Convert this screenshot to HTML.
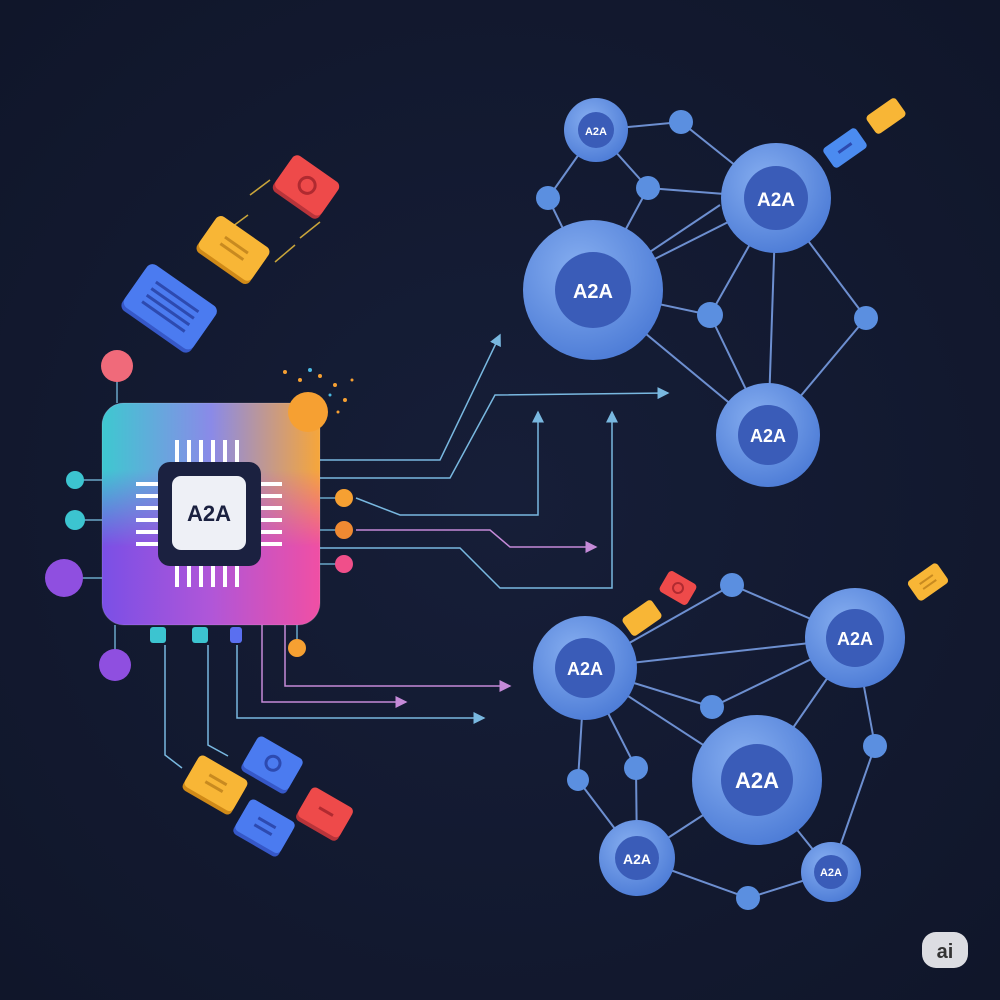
<!DOCTYPE html>
<html><head><meta charset="utf-8">
<style>
html,body{margin:0;padding:0;background:#121930;}
svg{display:block}
text{font-family:"Liberation Sans",sans-serif;font-weight:bold;}
</style></head>
<body>
<svg width="1000" height="1000" viewBox="0 0 1000 1000" xmlns="http://www.w3.org/2000/svg">
<defs>
<radialGradient id="bg" cx="50%" cy="50%" r="70%">
<stop offset="0" stop-color="#161e38"/><stop offset="1" stop-color="#10162a"/>
</radialGradient>
<linearGradient id="chipA" x1="0" y1="0" x2="1" y2="0">
<stop offset="0" stop-color="#3ec8d0"/><stop offset="0.5" stop-color="#8a8ae8"/><stop offset="1" stop-color="#f6a63a"/>
</linearGradient>
<linearGradient id="chipB" x1="0" y1="0" x2="1" y2="0">
<stop offset="0" stop-color="#7a4fe6"/><stop offset="0.5" stop-color="#b056d8"/><stop offset="1" stop-color="#f04fa4"/>
</linearGradient>
<linearGradient id="fade" x1="0" y1="0" x2="0" y2="1">
<stop offset="0.3" stop-color="#fff"/><stop offset="0.65" stop-color="#000"/>
</linearGradient>
<mask id="m"><rect x="102" y="403" width="218" height="222" fill="url(#fade)"/></mask>
<radialGradient id="node" cx="40%" cy="35%" r="70%">
<stop offset="0" stop-color="#86aef0"/><stop offset="1" stop-color="#4c7bd6"/>
</radialGradient>
<marker id="ar" markerWidth="8" markerHeight="8" refX="7" refY="4" orient="auto"><path d="M0,0 L8,4 L0,8 z" fill="#79b8e0"/></marker>
<marker id="ap" markerWidth="8" markerHeight="8" refX="7" refY="4" orient="auto"><path d="M0,0 L8,4 L0,8 z" fill="#c58ad8"/></marker>
</defs>
<rect width="1000" height="1000" fill="url(#bg)"/>

<g fill="none" stroke-width="1.5">
<path d="M320,460 L440,460 L500,335" stroke="#79b8e0" marker-end="url(#ar)"/>
<path d="M320,478 L450,478 L495,395 L668,393" stroke="#79b8e0" marker-end="url(#ar)"/>
<path d="M356,498 L400,515 L538,515 L538,412" stroke="#79b8e0" marker-end="url(#ar)"/>
<path d="M356,530 L490,530 L510,547 L596,547" stroke="#c58ad8" marker-end="url(#ap)"/>
<path d="M320,548 L460,548 L500,588 L612,588 L612,412" stroke="#79b8e0" marker-end="url(#ar)"/>
<path d="M285,625 L285,686 L510,686" stroke="#c58ad8" marker-end="url(#ap)"/>
<path d="M262,625 L262,702 L406,702" stroke="#c58ad8" marker-end="url(#ap)"/>
<path d="M237,645 L237,718 L484,718" stroke="#79b8e0" marker-end="url(#ar)"/>
<path d="M165,645 L165,755 L182,768" stroke="#79b8e0"/>
<path d="M208,645 L208,745 L228,756" stroke="#79b8e0"/>
<path d="M248,215 L225,232 M295,245 L275,262 M270,180 L250,195 M320,222 L300,238" stroke="#c9a53a"/>
</g>

<g stroke="#6aa7c8" stroke-width="1.5" fill="none">
<path d="M117,366 L117,403"/><path d="M75,480 L102,480"/><path d="M75,520 L102,520"/><path d="M64,578 L102,578"/><path d="M115,625 L115,665"/>
</g>
<circle cx="117" cy="366" r="16" fill="#f06a7a"/>
<circle cx="75" cy="480" r="9" fill="#3cc4d0"/>
<circle cx="75" cy="520" r="10" fill="#3cc4d0"/>
<circle cx="64" cy="578" r="19" fill="#8f4fe0"/>
<circle cx="115" cy="665" r="16" fill="#8f4fe0"/>

<rect x="102" y="403" width="218" height="222" rx="22" fill="url(#chipB)"/>
<rect x="102" y="403" width="218" height="222" rx="22" fill="url(#chipA)" mask="url(#m)"/>
<rect x="102" y="403" width="218" height="222" rx="22" fill="none" stroke="#fff" stroke-opacity="0.15"/>
<circle cx="308" cy="412" r="20" fill="#f6a032"/>
<g fill="#f6a032"><circle cx="285" cy="372" r="2"/><circle cx="300" cy="380" r="2"/><circle cx="320" cy="376" r="2"/><circle cx="335" cy="385" r="2"/><circle cx="345" cy="400" r="2"/><circle cx="338" cy="412" r="1.5"/><circle cx="352" cy="380" r="1.5"/></g>
<g fill="#4ab8e0"><circle cx="310" cy="370" r="2"/><circle cx="330" cy="395" r="1.5"/></g>
<g fill="#fff">
<rect x="175" y="440" width="4" height="24"/><rect x="187" y="440" width="4" height="24"/><rect x="199" y="440" width="4" height="24"/><rect x="211" y="440" width="4" height="24"/><rect x="223" y="440" width="4" height="24"/><rect x="235" y="440" width="4" height="24"/>
<rect x="175" y="563" width="4" height="24"/><rect x="187" y="563" width="4" height="24"/><rect x="199" y="563" width="4" height="24"/><rect x="211" y="563" width="4" height="24"/><rect x="223" y="563" width="4" height="24"/><rect x="235" y="563" width="4" height="24"/>
<rect x="136" y="482" width="24" height="4"/><rect x="136" y="494" width="24" height="4"/><rect x="136" y="506" width="24" height="4"/><rect x="136" y="518" width="24" height="4"/><rect x="136" y="530" width="24" height="4"/><rect x="136" y="542" width="24" height="4"/>
<rect x="258" y="482" width="24" height="4"/><rect x="258" y="494" width="24" height="4"/><rect x="258" y="506" width="24" height="4"/><rect x="258" y="518" width="24" height="4"/><rect x="258" y="530" width="24" height="4"/><rect x="258" y="542" width="24" height="4"/>
</g>
<rect x="158" y="462" width="103" height="104" rx="12" fill="#1b2140"/>
<rect x="172" y="476" width="74" height="74" rx="9" fill="#eef0f6"/>
<text x="209" y="521" font-size="22" fill="#1b2140" text-anchor="middle">A2A</text>
<rect x="150" y="627" width="16" height="16" rx="3" fill="#3cc4d0"/>
<rect x="192" y="627" width="16" height="16" rx="3" fill="#3cc4d0"/>
<rect x="230" y="627" width="12" height="16" rx="3" fill="#5a6ff0"/>
<g stroke="#6aa7c8" stroke-width="1.5"><path d="M320,498 L344,498 M320,530 L344,530 M320,564 L344,564 M297,625 L297,648"/></g>
<circle cx="344" cy="498" r="9" fill="#f6a032"/>
<circle cx="344" cy="530" r="9" fill="#f08a32"/>
<circle cx="344" cy="564" r="9" fill="#f04f8a"/>
<circle cx="297" cy="648" r="9" fill="#f6a032"/>

<g transform="translate(168,310) rotate(35)"><rect x="-42" y="-26" width="84" height="52" rx="7" fill="#3658c8"/><rect x="-42" y="-30" width="84" height="52" rx="7" fill="#4b7bf0"/><g stroke="#2d4ab0" stroke-width="3"><path d="M-26,-16 L26,-16 M-26,-8 L26,-8 M-26,0 L26,0 M-26,8 L26,8"/></g></g>
<g transform="translate(233,250) rotate(35)"><rect x="-32" y="-18" width="64" height="40" rx="6" fill="#d08a18"/><rect x="-32" y="-22" width="64" height="40" rx="6" fill="#f8b636"/><g stroke="#c88a20" stroke-width="3"><path d="M-14,-6 L14,-6 M-14,2 L14,2"/></g></g>
<g transform="translate(306,187) rotate(35)"><rect x="-28" y="-18" width="56" height="40" rx="6" fill="#b8343a"/><rect x="-28" y="-22" width="56" height="40" rx="6" fill="#ee4a4a"/><circle cx="0" cy="-2" r="8" fill="none" stroke="#b02a30" stroke-width="3"/></g>
<g transform="translate(215,785) rotate(30)"><rect x="-28" y="-16" width="56" height="36" rx="5" fill="#d08a18"/><rect x="-28" y="-20" width="56" height="36" rx="5" fill="#f8b636"/><g stroke="#c88a20" stroke-width="3"><path d="M-10,-6 L10,-6 M-10,2 L10,2"/></g></g>
<g transform="translate(272,765) rotate(30)"><rect x="-26" y="-16" width="52" height="36" rx="5" fill="#3658c8"/><rect x="-26" y="-20" width="52" height="36" rx="5" fill="#4b7bf0"/><circle cx="0" cy="-2" r="7" fill="none" stroke="#2d4ab0" stroke-width="3"/></g>
<g transform="translate(264,828) rotate(30)"><rect x="-26" y="-16" width="52" height="36" rx="5" fill="#3658c8"/><rect x="-26" y="-20" width="52" height="36" rx="5" fill="#4b7bf0"/><g stroke="#2d4ab0" stroke-width="3"><path d="M-10,-6 L10,-6 M-10,2 L10,2"/></g></g>
<g transform="translate(324,815) rotate(30)"><rect x="-24" y="-16" width="48" height="34" rx="5" fill="#b8343a"/><rect x="-24" y="-20" width="48" height="34" rx="5" fill="#ee4a4a"/><path d="M-8,-4 L8,-4" stroke="#b02a30" stroke-width="3"/></g>
<g transform="translate(678,588) rotate(30)"><rect x="-16" y="-12" width="32" height="24" rx="4" fill="#ee4a4a"/><circle r="5" fill="none" stroke="#b02a30" stroke-width="2"/></g>
<g transform="translate(642,618) rotate(-35)"><rect x="-18" y="-11" width="36" height="22" rx="4" fill="#f8b636"/></g>
<g transform="translate(928,582) rotate(-35)"><rect x="-18" y="-12" width="36" height="24" rx="4" fill="#f8b636"/><path d="M-8,-3 L8,-3 M-8,3 L8,3" stroke="#c88a20" stroke-width="2"/></g>
<g transform="translate(886,116) rotate(-35)"><rect x="-18" y="-11" width="36" height="22" rx="4" fill="#f8b636"/></g>
<g transform="translate(845,148) rotate(-35)"><rect x="-20" y="-12" width="40" height="24" rx="4" fill="#4b8bf0"/><path d="M-8,0 L8,0" stroke="#2d4ab0" stroke-width="3"/></g>

<g stroke="#6d8fd0" stroke-width="2" fill="none">
<path d="M596,130 L681,122 L776,198 M596,130 L548,198 L593,290 M596,130 L648,188 L776,198 M648,188 L593,290 M548,198 L593,290 M593,290 L776,198 M593,290 L710,315 L776,198 M776,198 L866,318 L768,435 M776,198 L768,435 M593,290 L768,435 M710,315 L768,435 M593,290 L720,205"/>
</g>
<g stroke="#6d8fd0" stroke-width="2" fill="none">
<path d="M585,668 L732,585 L855,638 M585,668 L855,638 M585,668 L712,707 L855,638 M585,668 L757,780 L855,638 M855,638 L875,746 L831,872 M585,668 L578,780 L637,858 M585,668 L636,768 L637,858 M757,780 L637,858 M637,858 L748,898 L831,872 M757,780 L831,872 M578,780 L637,858"/>
</g>

<g>
<circle cx="681" cy="122" r="12" fill="#5b8fe0"/><circle cx="548" cy="198" r="12" fill="#5b8fe0"/><circle cx="648" cy="188" r="12" fill="#5b8fe0"/><circle cx="710" cy="315" r="13" fill="#5b8fe0"/><circle cx="866" cy="318" r="12" fill="#5b8fe0"/>
<circle cx="732" cy="585" r="12" fill="#5b8fe0"/><circle cx="712" cy="707" r="12" fill="#5b8fe0"/><circle cx="875" cy="746" r="12" fill="#5b8fe0"/><circle cx="578" cy="780" r="11" fill="#5b8fe0"/><circle cx="636" cy="768" r="12" fill="#5b8fe0"/><circle cx="748" cy="898" r="12" fill="#5b8fe0"/>
</g>
<g font-size="14">
<circle cx="596" cy="130" r="32" fill="url(#node)"/><circle cx="596" cy="130" r="18" fill="#3a5cb8"/><text x="596" y="135" font-size="11" fill="#fff" text-anchor="middle">A2A</text>
<circle cx="776" cy="198" r="55" fill="url(#node)"/><circle cx="776" cy="198" r="32" fill="#3a5cb8"/><text x="776" y="206" font-size="19" fill="#fff" text-anchor="middle">A2A</text>
<circle cx="593" cy="290" r="70" fill="url(#node)"/><circle cx="593" cy="290" r="38" fill="#3a5cb8"/><text x="593" y="298" font-size="20" fill="#fff" text-anchor="middle">A2A</text>
<circle cx="768" cy="435" r="52" fill="url(#node)"/><circle cx="768" cy="435" r="30" fill="#3a5cb8"/><text x="768" y="442" font-size="18" fill="#fff" text-anchor="middle">A2A</text>
<circle cx="585" cy="668" r="52" fill="url(#node)"/><circle cx="585" cy="668" r="30" fill="#3a5cb8"/><text x="585" y="675" font-size="18" fill="#fff" text-anchor="middle">A2A</text>
<circle cx="855" cy="638" r="50" fill="url(#node)"/><circle cx="855" cy="638" r="29" fill="#3a5cb8"/><text x="855" y="645" font-size="18" fill="#fff" text-anchor="middle">A2A</text>
<circle cx="757" cy="780" r="65" fill="url(#node)"/><circle cx="757" cy="780" r="36" fill="#3a5cb8"/><text x="757" y="788" font-size="22" fill="#fff" text-anchor="middle">A2A</text>
<circle cx="637" cy="858" r="38" fill="url(#node)"/><circle cx="637" cy="858" r="22" fill="#3a5cb8"/><text x="637" y="864" font-size="14" fill="#fff" text-anchor="middle">A2A</text>
<circle cx="831" cy="872" r="30" fill="url(#node)"/><circle cx="831" cy="872" r="17" fill="#3a5cb8"/><text x="831" y="876" font-size="11" fill="#fff" text-anchor="middle">A2A</text>
</g>

<rect x="922" y="932" width="46" height="36" rx="14" fill="#dcdde2"/>
<text x="945" y="958" font-size="20" fill="#333" text-anchor="middle">ai</text>
</svg>
</body></html>
